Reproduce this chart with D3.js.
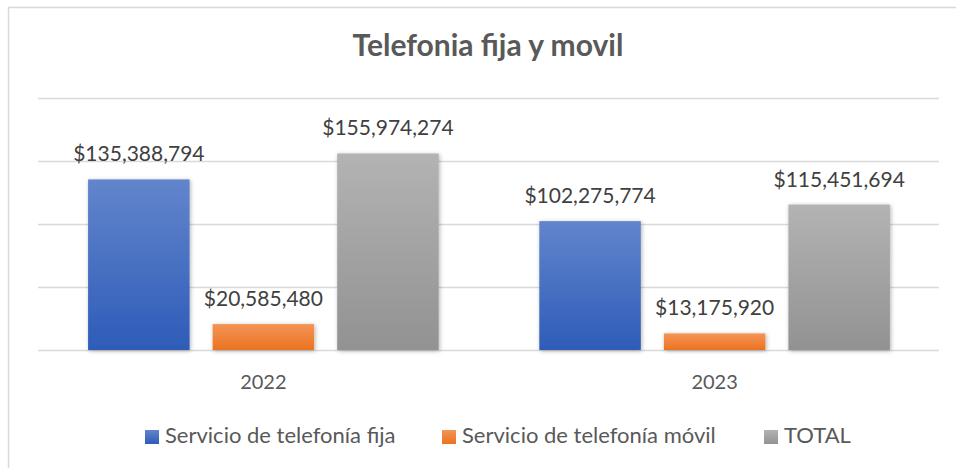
<!DOCTYPE html>
<html><head><meta charset="utf-8">
<script src="https://cdn.jsdelivr.net/npm/d3@7"></script>
<style>body{margin:0;background:#fff}svg{display:block}text{font-family:Lato,"Open Sans",sans-serif}</style>
</head><body><svg id="c" width="956" height="468"></svg>
<script>
const categories = ["2022", "2023"];
const seriesNames = ["Servicio de telefonía fija", "Servicio de telefonía móvil", "TOTAL"];
const fija = [135388794, 102275774];
const movil = [20585480, 13175920];
const total = [155974274, 115451694];
const yTicks = [0, 50000000, 100000000, 150000000, 200000000];
const values = [fija, movil, total];

const svg = d3.select("#c");
const W = 956, H = 468;
const m = {l: 38, r: 16, t: 98, b: 118};
const grads = [["#6285cc", "#2e5cb8"], ["#f39556", "#ec7221"], ["#b3b3b3", "#929292"]];
const defs = svg.append("defs");
grads.forEach((g, i) => {
  const lg = defs.append("linearGradient").attr("id", "g" + i).attr("x1", 0).attr("y1", 0).attr("x2", 0).attr("y2", 1);
  lg.append("stop").attr("offset", "0%").attr("stop-color", g[0]);
  lg.append("stop").attr("offset", "100%").attr("stop-color", g[1]);
});
const f = defs.append("filter").attr("id", "sh").attr("x", "-20%").attr("y", "-20%").attr("width", "140%").attr("height", "140%");
f.append("feDropShadow").attr("dx", 1).attr("dy", 1).attr("stdDeviation", 2).attr("flood-color", "#000").attr("flood-opacity", 0.3);

svg.append("rect").attr("x", 8.5).attr("y", 7.5).attr("width", 960).attr("height", 480).attr("fill", "#fff").attr("stroke", "#d9d9d9").attr("stroke-width", 1.5);

const x0 = d3.scaleBand().domain(categories).range([m.l, W - m.r]).paddingInner(0.223).paddingOuter(0.111);
const x1 = d3.scaleBand().domain(d3.range(3)).range([0, x0.bandwidth()]).paddingInner(0.185).paddingOuter(0);
const y = d3.scaleLinear().domain([0, 200000000]).range([H - m.b, m.t]);

svg.append("g").selectAll("line").data(yTicks).join("line")
  .attr("x1", m.l).attr("x2", W - m.r - 1).attr("y1", d => Math.round(y(d)) + 0.5).attr("y2", d => Math.round(y(d)) + 0.5)
  .attr("stroke", "#d9d9d9").attr("stroke-width", 1.5);

svg.append("text").attr("x", 488).attr("y", 56).attr("text-anchor", "middle")
  .attr("font-size", 30).attr("font-weight", "bold").attr("fill", "#595959").text("Telefonia fija y movil");

const fmt = d => "$" + d3.format(",")(d);
values.forEach((vals, s) => {
  const g = svg.append("g");
  g.selectAll("rect").data(vals).join("rect")
    .attr("x", (d, i) => x0(categories[i]) + x1(s)).attr("width", x1.bandwidth())
    .attr("y", d => y(d)).attr("height", d => y(0) - y(d))
    .attr("fill", "url(#g" + s + ")").attr("filter", "url(#sh)");
  g.selectAll("text").data(vals).join("text")
    .attr("x", (d, i) => x0(categories[i]) + x1(s) + x1.bandwidth() / 2)
    .attr("y", d => y(d) - 18).attr("text-anchor", "middle")
    .attr("font-size", 21).attr("fill", "#404040").text(fmt);
});

svg.append("g").selectAll("text").data(categories).join("text")
  .attr("x", d => x0(d) + x0.bandwidth() / 2).attr("y", 389).attr("text-anchor", "middle")
  .attr("font-size", 20).attr("fill", "#595959").text(d => d);

const legX = [145, 442, 764];
const lg = svg.append("g");
seriesNames.forEach((n, i) => {
  lg.append("rect").attr("x", legX[i]).attr("y", 430).attr("width", 14).attr("height", 14).attr("fill", "url(#g" + i + ")");
  lg.append("text").attr("x", legX[i] + 20).attr("y", 443).attr("font-size", 22).attr("fill", "#595959").text(n);
});
</script></body></html>
